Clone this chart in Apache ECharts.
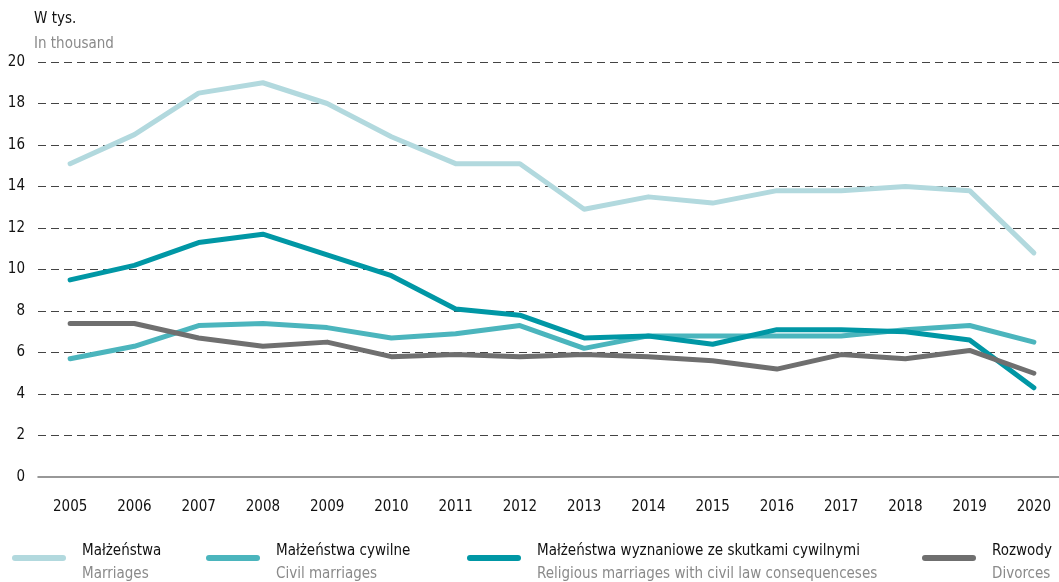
<!DOCTYPE html>
<html>
<head>
<meta charset="utf-8">
<script src="https://cdn.jsdelivr.net/npm/echarts@6/dist/echarts.min.js"></script>
<style>
  html, body { margin: 0; padding: 0; background: #fff; }
  #chart { width: 1059px; height: 582px; }
</style>
</head>
<body>
<div id="chart"></div>
<script>
// Years on the category axis
const years = ['2005','2006','2007','2008','2009','2010','2011','2012','2013','2014','2015','2016','2017','2018','2019','2020'];

// Values in thousands
const marriages      = [15.1, 16.5, 18.5, 19.0, 18.0, 16.4, 15.1, 15.1, 12.9, 13.5, 13.2, 13.8, 13.8, 14.0, 13.8, 10.8];
const civilMarriages = [5.7, 6.3, 7.3, 7.4, 7.2, 6.7, 6.9, 7.3, 6.2, 6.8, 6.8, 6.8, 6.8, 7.1, 7.3, 6.5];
const religious      = [9.5, 10.2, 11.3, 11.7, 10.7, 9.7, 8.1, 7.8, 6.7, 6.8, 6.4, 7.1, 7.1, 7.0, 6.6, 4.3];
const divorces       = [7.4, 7.4, 6.7, 6.3, 6.5, 5.8, 5.9, 5.8, 5.9, 5.8, 5.6, 5.2, 5.9, 5.7, 6.1, 5.0];

// Series names (Polish) and their English captions
const seriesNames = ['Małżeństwa', 'Małżeństwa cywilne', 'Małżeństwa wyznaniowe ze skutkami cywilnymi', 'Rozwody'];
const englishNames = ['Marriages', 'Civil marriages', 'Religious marriages with civil law consequenceses', 'Divorces'];
const seriesColors = ['#b2d9de', '#4bb5bd', '#0097a5', '#6f6f6f'];
const seriesValues = [marriages, civilMarriages, religious, divorces];
const legendLefts = [12, 206, 467, 922];

const FONT = "'Liberation Sans Narrow', 'DejaVu Sans Condensed', 'Noto Sans', sans-serif";
const FS = 15;

// Rounded bar for the legend key; the trailing zero-length subpath only widens
// the bounding box so the bar sits a little above the caption's middle.
const KEY_ICON = 'path://M3,0 L51,0 A3,3 0 0 1 51,6 L3,6 A3,3 0 0 1 3,0 Z M0,16 L0,16';

const chart = echarts.init(document.getElementById('chart'), null, { renderer: 'canvas' });

const legends = seriesNames.map((name, i) => ({
  data: [name],
  left: legendLefts[i],
  top: 544,
  padding: 0,
  itemWidth: 54,
  itemHeight: 16,
  icon: KEY_ICON,
  selectedMode: false,
  formatter: n => '{a|' + n + '}\n{b|' + englishNames[seriesNames.indexOf(n)] + '}',
  textStyle: {
    fontFamily: FONT,
    rich: {
      a: { fontFamily: FONT, fontSize: FS, color: '#111', lineHeight: 23, padding: [0, 0, 0, 11] },
      b: { fontFamily: FONT, fontSize: FS, color: '#8a8a8a', lineHeight: 23, padding: [0, 0, 0, 11] }
    }
  }
}));

const option = {
  animation: false,
  backgroundColor: '#fff',
  textStyle: { fontFamily: FONT },
  title: {
    text: 'W tys.',
    subtext: 'In thousand',
    left: 34,
    top: 9,
    padding: 0,
    itemGap: 5,
    textStyle: { fontFamily: FONT, fontSize: FS, fontWeight: 'normal', color: '#111', lineHeight: 20 },
    subtextStyle: { fontFamily: FONT, fontSize: FS, color: '#8a8a8a', lineHeight: 20 }
  },
  legend: legends,
  grid: {
    left: 38,
    top: 62,
    width: 1028,
    height: 415,
    containLabel: false,
    outerBoundsMode: 'none'
  },
  xAxis: {
    type: 'category',
    data: years,
    boundaryGap: true,
    z: 2,
    axisTick: { show: false },
    axisLine: { show: true, lineStyle: { color: '#777', width: 1.5 } },
    axisLabel: { interval: 0, margin: 23, fontFamily: FONT, fontSize: FS, color: '#111' },
    splitLine: { show: false }
  },
  yAxis: {
    type: 'value',
    min: 0,
    max: 20,
    interval: 2,
    z: 1,
    axisLine: { show: false },
    axisTick: { show: false },
    axisLabel: { margin: 13, fontFamily: FONT, fontSize: FS, color: '#111' },
    splitLine: { show: true, showMinLine: false, lineStyle: { color: '#444', width: 1, type: [8, 5] } }
  },
  series: seriesNames.map((name, i) => ({
    name: name,
    type: 'line',
    data: seriesValues[i],
    symbol: 'none',
    color: seriesColors[i],
    lineStyle: { width: 5, color: seriesColors[i], cap: 'round', join: 'round' },
    emphasis: { disabled: true },
    z: 3 + i
  }))
};

chart.setOption(option);
</script>
</body>
</html>
